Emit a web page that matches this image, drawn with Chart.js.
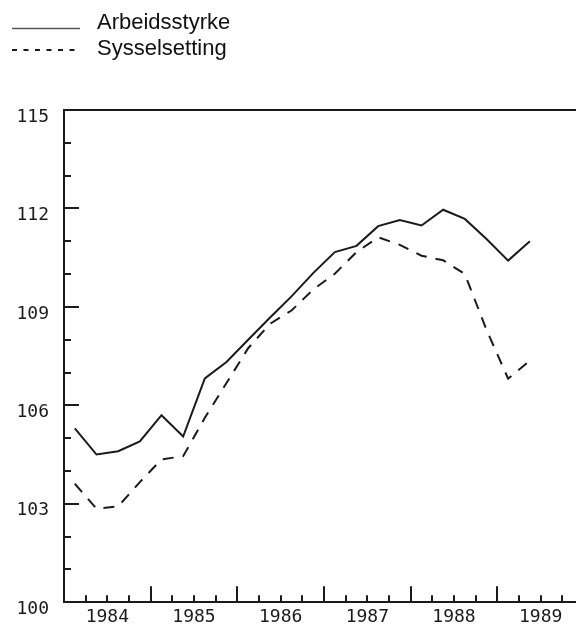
<!DOCTYPE html>
<html><head><meta charset="utf-8">
<script src="https://cdn.jsdelivr.net/npm/chart.js@4.4.1/dist/chart.umd.min.js"></script>
<style>
html,body{margin:0;padding:0;overflow:hidden;background:#fff;width:576px;height:628px;}
#wrap{position:absolute;left:0;top:0;width:600px;height:628px;}
</style></head><body>
<div id="wrap"><canvas id="c"></canvas></div>
<script>
// Quarterly periods (K = kvartal)
const periods = ['1984K1','1984K2','1984K3','1984K4','1985K1','1985K2','1985K3','1985K4',
  '1986K1','1986K2','1986K3','1986K4','1987K1','1987K2','1987K3','1987K4',
  '1988K1','1988K2','1988K3','1988K4','1989K1','1989K2'];
const arbeidsstyrke = [105.3,104.5,104.6,104.9,105.7,105.05,106.82,107.32,108.0,108.67,109.32,110.03,
  110.67,110.86,111.46,111.65,111.48,111.96,111.68,111.07,110.41,111.0];
const sysselsetting = [103.61,102.85,102.92,103.66,104.35,104.45,105.62,106.68,107.74,108.48,108.89,109.53,
  110.01,110.67,111.12,110.89,110.56,110.42,110.0,108.3,106.81,107.36];
const seriesNames = ['Arbeidsstyrke','Sysselsetting'];
const yearLabels = ['1984','1985','1986','1987','1988','1989'];
const yTickValues = [100,103,106,109,112,115];

const INK = '#1a1a1a';
const periodX = p => +p.slice(0,4) + (+p.slice(5) - 0.5) / 4;
const toPoints = arr => arr.map((v,i) => ({x: periodX(periods[i]), y: v}));
const tickFont = {family: "'DejaVu Sans Mono', monospace", size: 18};

const axisMarks = {
  id: 'axisMarks',
  afterDatasetsDraw(chart){
    const {ctx, chartArea: a, scales: {x, y}} = chart;
    ctx.save();
    ctx.strokeStyle = INK; ctx.lineWidth = 2; ctx.lineCap = 'butt';
    ctx.beginPath();
    ctx.moveTo(a.left - 1, a.top); ctx.lineTo(a.right, a.top);
    const yMin = y.min, yMax = y.max;
    for (let v = yMin + 1; v < yMax; v++) {
      const py = Math.round(y.getPixelForValue(v));
      const len = ((v - yMin) % 3 === 0) ? 15 : 7;
      ctx.moveTo(a.left, py); ctx.lineTo(a.left + len, py);
    }
    for (let t = x.min + 0.25; t < x.max; t += 0.25) {
      const px = Math.round(x.getPixelForValue(t));
      const len = Number.isInteger(t) ? 16 : 7;
      ctx.moveTo(px, a.bottom); ctx.lineTo(px, a.bottom - len);
    }
    ctx.stroke();
    ctx.restore();
  }
};

const customLegend = {
  id: 'customLegend',
  afterDraw(chart){
    const ctx = chart.ctx;
    ctx.save();
    ctx.strokeStyle = '#555'; ctx.lineWidth = 1.3;
    ctx.beginPath(); ctx.moveTo(12, 28.5); ctx.lineTo(80, 28.5); ctx.stroke();
    ctx.strokeStyle = INK; ctx.lineWidth = 2; ctx.setLineDash([5,6.5]);
    ctx.beginPath(); ctx.moveTo(12, 50); ctx.lineTo(80, 50); ctx.stroke();
    ctx.setLineDash([]);
    ctx.fillStyle = '#111';
    ctx.font = "22px 'Liberation Sans', Arial, sans-serif";
    ctx.textBaseline = 'alphabetic'; ctx.textAlign = 'left';
    ctx.fillText(seriesNames[0], 97, 29);
    ctx.fillText(seriesNames[1], 97, 55);
    ctx.restore();
  }
};

new Chart(document.getElementById('c'), {
  type: 'line',
  data: {
    datasets: [
      {label: seriesNames[0], data: toPoints(arbeidsstyrke), borderColor: INK, borderWidth: 2,
       pointRadius: 0, tension: 0, fill: false},
      {label: seriesNames[1], data: toPoints(sysselsetting), borderColor: INK, borderWidth: 2,
       borderDash: [11, 9], pointRadius: 0, tension: 0, fill: false}
    ]
  },
  options: {
    responsive: true, maintainAspectRatio: false, animation: false,
    layout: {padding: {top: 110, right: 16, left: 0, bottom: 0}},
    plugins: {legend: {display: false}, tooltip: {enabled: false}, title: {display: false}},
    scales: {
      x: {
        type: 'linear', position: 'bottom', min: 1984, max: 1990,
        grid: {display: false, drawTicks: false},
        border: {display: true, color: INK, width: 2},
        afterBuildTicks: s => { s.ticks = yearLabels.map(l => ({value: +l + 0.5})); },
        afterFit: s => { s.height = 22; },
        ticks: {autoSkip: false, maxRotation: 0, padding: 4, color: INK, font: tickFont,
          callback: (v, i) => yearLabels[i]}
      },
      y: {
        type: 'linear', position: 'left', min: 100, max: 115,
        grid: {display: false, drawTicks: false},
        border: {display: true, color: INK, width: 2},
        afterBuildTicks: s => { s.ticks = yTickValues.map(v => ({value: v})); },
        afterFit: s => { s.width = 64; },
        ticks: {padding: 15, labelOffset: 7, color: INK, font: tickFont, callback: v => String(v)}
      }
    }
  },
  plugins: [axisMarks, customLegend]
});
</script>
</body></html>
